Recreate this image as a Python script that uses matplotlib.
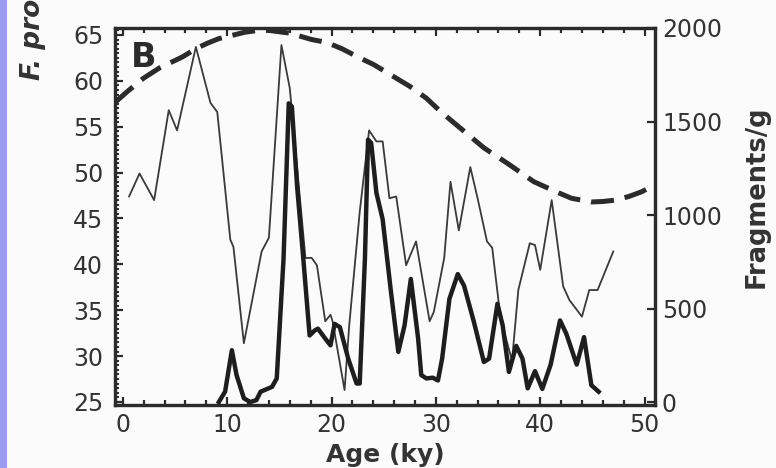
import matplotlib
matplotlib.use("Agg")
import matplotlib.pyplot as plt
from matplotlib.patches import Rectangle
from matplotlib.ticker import MultipleLocator

# ---- data ----
ins_age = [-0.7, 0.5, 2.0, 3.5, 5.7, 7.0, 8.1, 9.2, 11.7, 13.0, 14.0, 16.0, 18.1, 19.5,
           21.0, 22.7, 24.0, 25.9, 27.5, 29.1, 30.5, 32.5, 34.6, 37.0, 39.4, 41.75,
           43.0, 44.9, 46.0, 47.2, 48.5, 49.7, 50.7]
ins_val = [57.7, 58.9, 60.3, 61.4, 62.6, 63.5, 64.1, 64.6, 65.3, 65.5, 65.5, 65.2, 64.5, 64.2,
           63.5, 62.5, 61.8, 60.5, 59.4, 58.1, 56.6, 54.7, 52.7, 50.9, 49.0, 47.8,
           47.2, 46.8, 46.85, 47.0, 47.4, 47.9, 48.5]

prof_age = [0.6, 1.6, 3.0, 4.4, 5.2, 7.0, 8.4, 9.05, 10.3, 10.6, 11.6, 13.3, 14.0, 15.2, 16.0,
            17.5, 18.1, 18.6, 19.4, 19.9, 20.1, 21.25, 21.7, 22.7, 23.6, 24.3, 24.9, 25.55,
            26.2, 27.15, 28.1, 29.4, 29.8, 30.8, 31.4, 32.2, 33.3, 34.0, 34.9, 35.4, 36.2,
            37.3, 37.9, 39.0, 39.5, 40.0, 41.1, 42.2, 42.8, 44.0, 44.7, 45.5, 47.0]
prof_val = [47.4, 49.9, 47.0, 56.8, 54.6, 63.7, 57.6, 56.6, 42.7, 41.9, 31.4, 41.4, 42.9, 63.9,
            59.2, 40.7, 40.7, 39.9, 33.8, 34.5, 33.8, 26.3, 33.4, 45.7, 54.6, 53.4, 53.4,
            47.2, 47.4, 39.9, 42.5, 33.8, 34.8, 40.7, 49.0, 43.7, 50.6, 47.2, 42.5, 41.8,
            34.1, 29.5, 37.2, 42.3, 42.1, 39.4, 47.0, 37.6, 36.1, 34.3, 37.2, 37.2, 41.4]

frag_age = [9.2, 9.8, 10.45, 10.9, 11.6, 12.2, 12.8, 13.2, 14.3, 14.75, 15.4, 15.9, 16.2, 16.7,
            17.3, 17.9, 18.4, 18.7, 19.4, 19.9, 20.3, 20.8, 21.6, 22.4, 22.7, 23.2, 23.5,
            23.8, 24.3, 24.9, 25.7, 26.4, 27.0, 27.6, 28.3, 28.6, 29.1, 29.7, 30.2, 30.6,
            31.3, 32.1, 32.7, 33.65, 34.6, 35.1, 35.9, 36.4, 37.0, 37.7, 38.3, 38.8, 39.5,
            40.2, 41.0, 41.9, 42.5, 43.5, 44.2, 44.9, 45.6]
frag_val = [0, 55, 277, 144, 20, 0, 10, 55, 81, 126, 764, 1597, 1580, 1154, 764, 356, 383, 392,
            339, 303, 418, 400, 232, 99, 99, 764, 1403, 1385, 1119, 977, 587, 268, 410, 658,
            339, 144, 126, 130, 115, 232, 552, 684, 622, 427, 214, 232, 525, 410, 161, 300,
            232, 73, 165, 70, 200, 436, 365, 200, 347, 90, 55]

left_ticks = [25, 30, 35, 40, 45, 50, 55, 60, 65]
right_ticks = [0, 500, 1000, 1500, 2000]
x_ticks = [0, 10, 20, 30, 40, 50]

# ---- figure ----
W, H = 776, 468
ink = "#2b2b2b"
txt = "#333333"
fig = plt.figure(figsize=(W / 100, H / 100), dpi=100, facecolor="#fbfbfb")
fig.patches.append(Rectangle((0, 0), 7 / W, 1, transform=fig.transFigure,
                             facecolor="#9b9bf6", edgecolor="none", zorder=0))

ax = fig.add_axes([115 / W, (H - 405) / H, (655 - 115) / W, (405 - 28) / H])
ax.set_facecolor("#fbfbfb")
ax2 = ax.twinx()

ax.plot(ins_age, ins_val, color=ink, lw=3.6, dashes=(4.6, 2.2), solid_capstyle="butt",
        dash_capstyle="butt", zorder=3)
ax.plot(prof_age, prof_val, color="#3a3a3a", lw=1.3, zorder=4)
ax2.plot(frag_age, frag_val, color="#1e1e1e", lw=3.2, zorder=5)

ax.set_xlim(-0.75, 51.0)
ax.set_ylim(24.67, 65.76)
ax2.set_ylim(-16, 1989)

ax.set_xticks(x_ticks)
ax.xaxis.set_minor_locator(MultipleLocator(2))
ax.set_yticks(left_ticks)
ax.yaxis.set_minor_locator(MultipleLocator(0.5))
ax2.set_yticks(right_ticks)

fs = 17
ax.tick_params(axis="x", which="both", direction="in", top=True, bottom=True,
               labelsize=fs, labelcolor=txt, color=ink, pad=6)
ax.tick_params(axis="x", which="major", length=6, width=1.6)
ax.tick_params(axis="x", which="minor", length=3.5, width=1.6)
ax.tick_params(axis="y", which="both", direction="in", left=True, right=False,
               labelsize=fs, labelcolor=txt, color=ink, pad=8.5)
ax.tick_params(axis="y", which="major", length=6, width=1.6)
ax.tick_params(axis="y", which="minor", length=3, width=1.4)
ax2.tick_params(axis="y", which="major", direction="in", length=6, width=1.6,
                labelsize=fs, labelcolor=txt, color=ink, pad=5)

for a in (ax, ax2):
    for s in a.spines.values():
        s.set_linewidth(2.3)
        s.set_color(ink)

for lab in ax.get_xticklabels() + ax.get_yticklabels() + ax2.get_yticklabels():
    lab.set_family("DejaVu Sans")

ax.text(131 / W, 1 - 67 / H, "B", transform=fig.transFigure, fontsize=24,
        fontweight="bold", color=ink, ha="left", va="baseline")

fig.text(385 / W, 1 - 455 / H, "Age (ky)", fontsize=18, fontweight="bold",
         color=txt, ha="center", va="center")
fig.text(757 / W, 1 - 197 / H, "Fragments/g", fontsize=18.5, fontweight="bold",
         color=txt, ha="center", va="center", rotation=90)
fig.text(33 / W, 1 - 80 / H, "F. pro", fontsize=19, fontweight="bold", style="italic",
         color=txt, ha="center", va="bottom", rotation=90)

fig.savefig("out.png", dpi=100, facecolor=fig.get_facecolor())
